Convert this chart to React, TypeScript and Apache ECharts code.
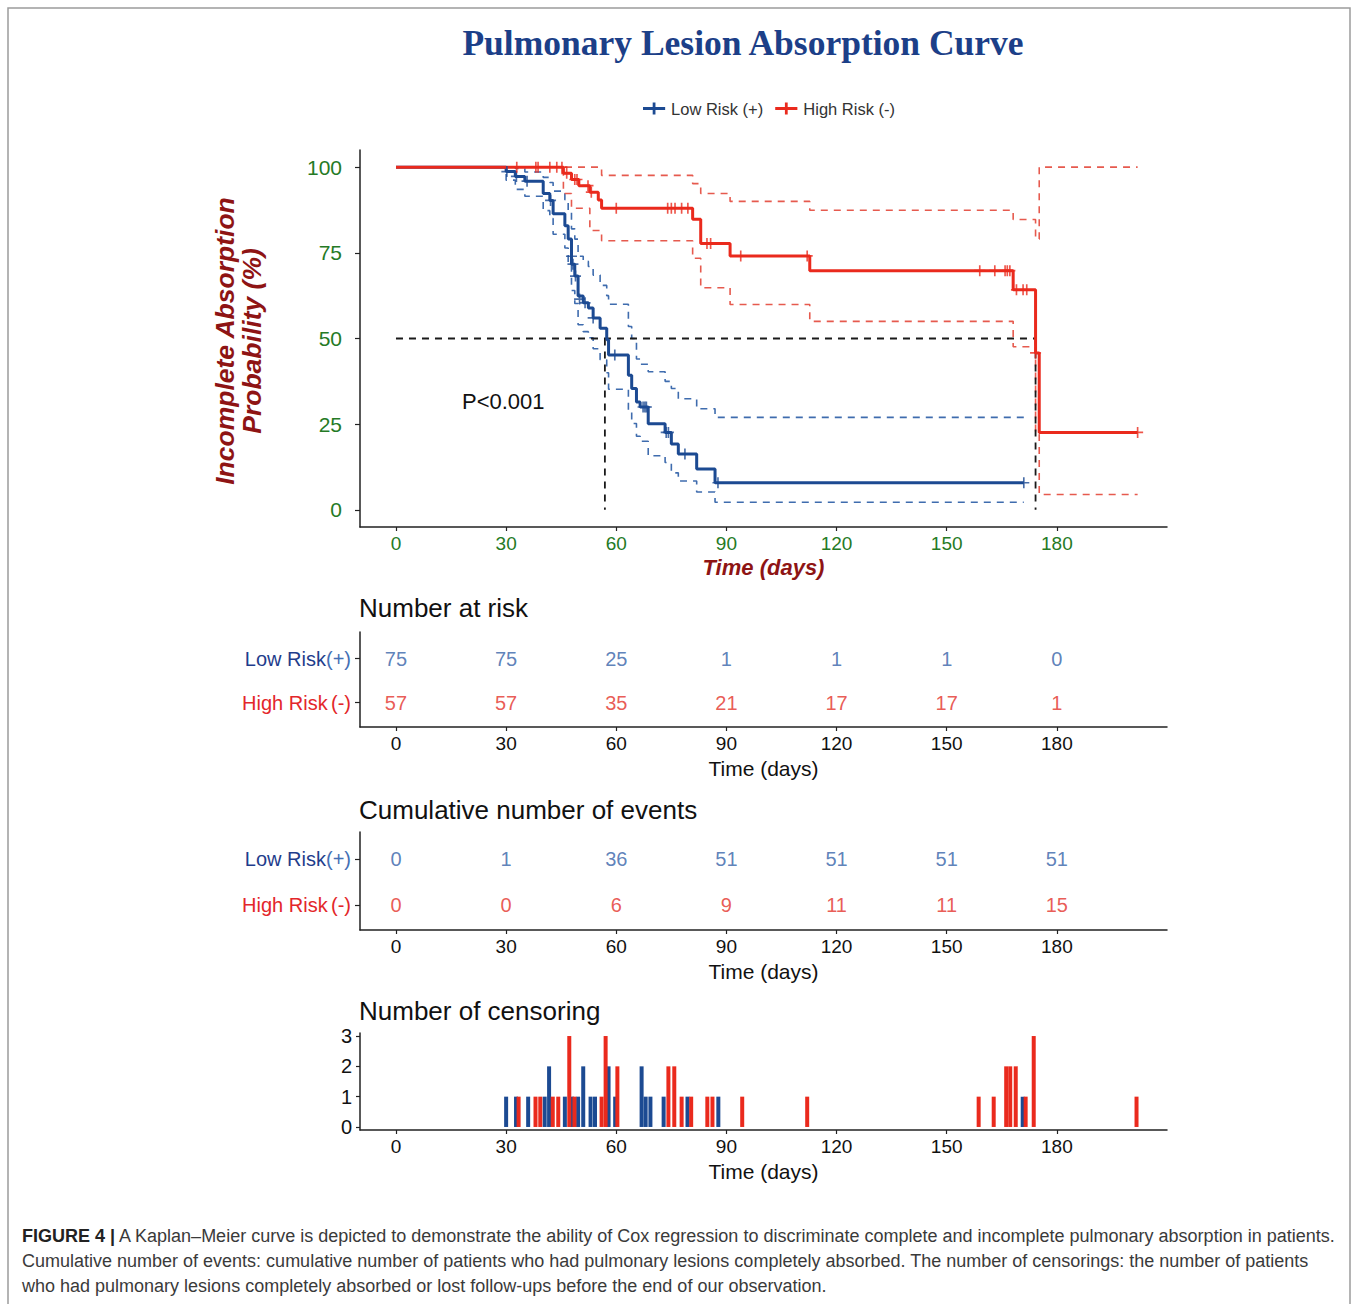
import React, { useEffect, useRef } from "react";
import * as echarts from "echarts";

const FONT = "'Liberation Sans', Arial, sans-serif";
const BLUE = "#1c4a92";
const RED = "#ea2a1d";
const BLUE_CI = "#3f6cae";
const RED_CI = "#e65a4e";
const GREEN = "#257a25";
const DARKRED = "#8e1414";

const timeTicks = [0, 30, 60, 90, 120, 150, 180];
const yTicks = [0, 25, 50, 75, 100];
const censorTicks = [0, 1, 2, 3];

const lowRiskKM = [
  [0, 100], [30, 98.7], [32.5, 97.3], [35.1, 95.9], [40.1, 92.3], [41.9, 90.3], [42.8, 86.4],
  [46, 82.9], [46.9, 79], [47.8, 71.7], [48.7, 68.2], [49.6, 62.4], [51, 60.4], [52.4, 58.9],
  [53.7, 56], [55.6, 53], [57.4, 49.6], [57.9, 45.2], [63.3, 39.3], [64.2, 35.4], [65.5, 31.5],
  [66.5, 30], [68.7, 25.1], [73.3, 22.6], [75, 19.2], [76.9, 16.3], [81.9, 11.9], [86.9, 7.9],
  [171, 7.9],
];
const lowRiskUpper = [
  [0, 100], [32.5, 99.6], [35.1, 98.6], [40.1, 97], [41.9, 95.5], [42.8, 93], [46, 90.5],
  [46.9, 87.5], [47.8, 82], [48.7, 79], [49.6, 74], [51, 72.5], [52.4, 71], [53.7, 68.5],
  [55.6, 65.5], [57.4, 62.5], [57.9, 60], [63.3, 53.5], [64.2, 50], [65.5, 44], [66.5, 42.5],
  [68.7, 40.3], [73.3, 37.5], [75, 35.4], [76.9, 32.4], [81.9, 29.5], [86.9, 27], [171, 27],
];
const lowRiskLower = [
  [0, 100], [30, 96.2], [32.5, 93.5], [35.1, 91.5], [40.1, 87.3], [41.9, 85], [42.8, 80.4],
  [46, 76.4], [46.9, 72], [47.8, 64], [48.7, 60.2], [49.6, 54], [51, 52], [52.4, 50.2],
  [53.7, 47], [55.6, 43.8], [57.4, 40], [57.9, 35.2], [63.3, 29], [64.2, 25.2], [65.5, 21.5],
  [66.5, 20], [68.7, 15.8], [73.3, 13.8], [75, 10.8], [76.9, 8.4], [81.9, 5.2], [86.9, 2.2],
  [171, 2.2],
];
const lowRiskCensor = [
  [30.2, 98.7], [32.8, 97.3], [35.7, 95.9], [42.1, 90.3], [47.8, 74], [48.2, 71.7], [48.9, 68.2],
  [50, 61.5], [51.5, 60.4], [53.7, 56], [59.6, 45.2], [67.3, 30], [67.8, 30], [68.2, 30],
  [73.6, 22.6], [74.2, 22.6], [78.7, 16.3], [87.7, 7.9], [171, 7.9],
];

const highRiskKM = [
  [0, 100], [45.6, 98.2], [47.8, 96.4], [49.8, 94.6], [52.8, 92.7], [55.1, 90.4], [56, 88],
  [80.8, 84.8], [83, 77.7], [91, 74.1], [112.7, 69.8], [168.1, 64.2], [174.2, 45.8],
  [175.2, 22.6], [202, 22.6],
];
const highRiskUpper = [
  [0, 100], [56, 97.6], [80.8, 95.2], [83, 92.3], [91, 90], [112.7, 87.4], [168.1, 84.7],
  [174.2, 79], [175.2, 100], [202, 100],
];
const highRiskLower = [
  [0, 100], [45.6, 92.3], [47.8, 88], [52.8, 81.5], [56, 78.5], [80.8, 73.4], [83, 64.8],
  [91, 59.9], [112.7, 55], [168.1, 47.6], [174.2, 22], [175.2, 4.5], [202, 4.5],
];
const highRiskCensor = [
  [32.9, 100], [38.1, 100], [38.7, 100], [41.9, 100], [43.8, 100], [45.2, 100], [46.5, 98.2],
  [48.7, 96.4], [49.3, 96.4], [52.3, 94.6], [53.2, 92.7], [60, 88], [74, 88], [75, 88], [76, 88],
  [77.8, 88], [79.5, 88], [84.7, 77.7], [85.7, 77.7], [93.9, 74.1], [112, 74.1], [159, 69.8],
  [163.1, 69.8], [165.9, 69.8], [166.5, 69.8], [167.2, 69.8], [169, 64.2], [170.8, 64.2],
  [171.8, 64.2], [174.2, 45.8], [202, 22.6],
];

const medianLow = 56.9;
const medianHigh = 174.2;

const lowAtRisk = [75, 75, 25, 1, 1, 1, 0];
const highAtRisk = [57, 57, 35, 21, 17, 17, 1];
const lowEvents = [0, 1, 36, 51, 51, 51, 51];
const highEvents = [0, 0, 6, 9, 11, 11, 15];

const lowCensorCounts = [
  [30, 1], [32.7, 1], [36, 1], [40.5, 1], [41.7, 2], [46, 1], [47.9, 1], [49.6, 1], [51, 2],
  [53, 1], [54.2, 1], [57.9, 2], [59.7, 1], [66.9, 2], [68, 1], [69.3, 1], [72.9, 1], [79.4, 1],
  [87.8, 1], [170.7, 1],
];
const highCensorCounts = [
  [33.4, 1], [38, 1], [39.3, 1], [42.7, 1], [44.2, 1], [47.2, 3], [48.6, 1], [56, 1], [57.1, 3],
  [60.3, 2], [74.2, 2], [75.8, 2], [77.8, 1], [80.4, 1], [84.8, 1], [86.2, 1], [94.3, 1],
  [112, 1], [158.7, 1], [162.8, 1], [166.2, 2], [167.3, 2], [168.8, 2], [171.5, 1], [173.7, 3],
  [201.7, 1],
];

const LEGEND_ICON = "path://M0,5H24V8H0Z M10.5,0H13.5V13H10.5Z";
const CENSOR_MARK = "path://M0,4.25H10V5.75H0Z M4.25,0H5.75V10H4.25Z";

const X_MIN = -9.8;
const X_MAX = 210;

const AXIS_LINE = { show: true, onZero: false, lineStyle: { color: "#222", width: 1.5 } };

function xAxis(gridIndex: number, main: boolean, nameGap: number) {
  return {
    type: "value",
    gridIndex,
    min: X_MIN,
    max: X_MAX,
    axisLine: AXIS_LINE,
    axisTick: { show: true, length: 4, customValues: timeTicks, lineStyle: { color: "#222", width: 1.2 } },
    axisLabel: {
      customValues: timeTicks,
      color: main ? GREEN : "#111",
      fontSize: 19,
      fontFamily: FONT,
      margin: 7,
    },
    splitLine: { show: false },
    name: "Time (days)",
    nameLocation: "middle",
    nameGap,
    nameTextStyle: main
      ? { color: DARKRED, fontSize: 22, fontWeight: "bold", fontStyle: "italic", fontFamily: FONT }
      : { color: "#111", fontSize: 21, fontFamily: FONT },
  };
}

function tableYAxis(gridIndex: number) {
  return {
    type: "value",
    gridIndex,
    min: 0.45,
    max: 2.6,
    axisLine: AXIS_LINE,
    axisTick: { show: true, length: 5, customValues: [1, 2], lineStyle: { color: "#222", width: 1.2 } },
    axisLabel: {
      customValues: [1, 2],
      margin: 9,
      formatter: (v: number) => (v === 2 ? "{a|Low Risk}{b|(+)}" : "{c|High Risk} {d|(-)}"),
      rich: {
        a: { color: "#1f3d8c", fontSize: 20, fontFamily: FONT },
        b: { color: "#4470b5", fontSize: 20, fontFamily: FONT },
        c: { color: "#e3262a", fontSize: 20, fontFamily: FONT },
        d: { color: "#e3262a", fontSize: 20, fontFamily: FONT },
      },
    },
    splitLine: { show: false },
  };
}

function stepLine(name: string, data: number[][], color: string, width: number, dashed: boolean) {
  return {
    type: "line",
    name,
    xAxisIndex: 0,
    yAxisIndex: 0,
    data,
    step: "end",
    symbol: "none",
    color,
    lineStyle: { color, width, type: dashed ? [7, 6] : "solid" },
    silent: true,
    z: dashed ? 2 : 4,
  };
}

function medianSeg(name: string, data: number[][]) {
  return {
    type: "line",
    name,
    xAxisIndex: 0,
    yAxisIndex: 0,
    data,
    symbol: "none",
    color: "#1a1a1a",
    lineStyle: { color: "#1a1a1a", width: 1.8, type: [7, 6] },
    silent: true,
    z: 3,
  };
}

function censorMarks(name: string, data: number[][], color: string) {
  return {
    type: "scatter",
    name,
    xAxisIndex: 0,
    yAxisIndex: 0,
    data,
    symbol: CENSOR_MARK,
    symbolSize: 11,
    itemStyle: { color },
    silent: true,
    z: 5,
  };
}

function tableRow(name: string, gridIndex: number, row: number, values: number[], color: string) {
  return {
    type: "scatter",
    name,
    xAxisIndex: gridIndex,
    yAxisIndex: gridIndex,
    data: timeTicks.map((t, i) => [t, row, values[i]]),
    symbolSize: 1,
    itemStyle: { color: "rgba(0,0,0,0)" },
    label: {
      show: true,
      position: "inside",
      formatter: (p: any) => String(p.value[2]),
      color,
      fontSize: 20,
      fontFamily: FONT,
    },
    silent: true,
  };
}

const caption1 =
  "{b|FIGURE 4 |} A Kaplan–Meier curve is depicted to demonstrate the ability of Cox regression to discriminate complete and incomplete pulmonary absorption in patients.";
const caption2 =
  "Cumulative number of events: cumulative number of patients who had pulmonary lesions completely absorbed. The number of censorings: the number of patients";
const caption3 =
  "who had pulmonary lesions completely absorbed or lost follow-ups before the end of our observation.";

function sectionTitle(text: string, y: number) {
  return {
    type: "text",
    x: 359,
    y,
    silent: true,
    style: { text, fontFamily: FONT, fontSize: 26, fill: "#111", align: "left", verticalAlign: "middle" },
  };
}

function captionLine(text: string, y: number) {
  return {
    type: "text",
    x: 22,
    y,
    silent: true,
    style: {
      text,
      fontFamily: FONT,
      fontSize: 18,
      fill: "#3a3a3a",
      align: "left",
      verticalAlign: "middle",
      rich: { b: { fontFamily: FONT, fontSize: 18, fontWeight: "bold", fill: "#222" } },
    },
  };
}

function buildOption() {
  return {
    animation: false,
    backgroundColor: "#ffffff",
    textStyle: { fontFamily: FONT },
    grid: [
      { left: 360, top: 150, width: 807, height: 377 },
      { left: 360, top: 632, width: 807, height: 95 },
      { left: 360, top: 832, width: 807, height: 98 },
      { left: 360, top: 1033, width: 807, height: 97 },
    ],
    legend: {
      data: [
        { name: "Low Risk (+)", icon: LEGEND_ICON },
        { name: "High Risk (-)", icon: LEGEND_ICON },
      ],
      left: 638,
      top: 95,
      itemWidth: 24,
      itemHeight: 12,
      itemGap: 12,
      selectedMode: false,
      textStyle: { fontSize: 16.5, color: "#333", fontFamily: FONT },
    },
    xAxis: [xAxis(0, true, 29), xAxis(1, false, 31), xAxis(2, false, 31), xAxis(3, false, 31)],
    yAxis: [
      {
        type: "value",
        gridIndex: 0,
        min: -5,
        max: 105,
        axisLine: AXIS_LINE,
        axisTick: { show: true, length: 5, customValues: yTicks, lineStyle: { color: "#222", width: 1.2 } },
        axisLabel: { customValues: yTicks, color: GREEN, fontSize: 21, fontFamily: FONT, margin: 18 },
        splitLine: { show: false },
      },
      tableYAxis(1),
      tableYAxis(2),
      {
        type: "value",
        gridIndex: 3,
        min: -0.1,
        max: 3.1,
        axisLine: AXIS_LINE,
        axisTick: { show: true, length: 4, customValues: censorTicks, lineStyle: { color: "#222", width: 1.2 } },
        axisLabel: { customValues: censorTicks, color: "#111", fontSize: 20, fontFamily: FONT, margin: 8 },
        splitLine: { show: false },
      },
    ],
    series: [
      stepLine("Low upper", lowRiskUpper, BLUE_CI, 1.6, true),
      stepLine("Low lower", lowRiskLower, BLUE_CI, 1.6, true),
      stepLine("High upper", highRiskUpper, RED_CI, 1.6, true),
      stepLine("High lower", highRiskLower, RED_CI, 1.6, true),
      medianSeg("Median h", [[0, 50], [medianHigh, 50]]),
      medianSeg("Median low v", [[medianLow, 50], [medianLow, 0]]),
      medianSeg("Median high v", [[medianHigh, 50], [medianHigh, 0]]),
      stepLine("Low Risk (+)", lowRiskKM, BLUE, 3, false),
      stepLine("High Risk (-)", highRiskKM, RED, 3, false),
      censorMarks("Low censor", lowRiskCensor, BLUE),
      censorMarks("High censor", highRiskCensor, RED),
      tableRow("Low at risk", 1, 2, lowAtRisk, "#3562a8"),
      tableRow("High at risk", 1, 1, highAtRisk, "#e3322a"),
      tableRow("Low events", 2, 2, lowEvents, "#3562a8"),
      tableRow("High events", 2, 1, highEvents, "#e3322a"),
      {
        type: "bar",
        name: "Low censoring",
        xAxisIndex: 3,
        yAxisIndex: 3,
        data: lowCensorCounts,
        barWidth: 4,
        barGap: "-100%",
        itemStyle: { color: BLUE },
        silent: true,
      },
      {
        type: "bar",
        name: "High censoring",
        xAxisIndex: 3,
        yAxisIndex: 3,
        data: highCensorCounts,
        barWidth: 4,
        barGap: "-100%",
        itemStyle: { color: RED },
        silent: true,
      },
    ],
    graphic: [
      {
        type: "rect",
        z: -10,
        silent: true,
        shape: { x: 8, y: 8, width: 1342, height: 1310 },
        style: { fill: "none", stroke: "#9c9c9c", lineWidth: 1.5 },
      },
      {
        type: "text",
        x: 743,
        y: 43,
        silent: true,
        style: {
          text: "Pulmonary Lesion Absorption Curve",
          fontFamily: "'Liberation Serif', 'Times New Roman', serif",
          fontWeight: "bold",
          fontSize: 35.5,
          fill: "#1c3f88",
          align: "center",
          verticalAlign: "middle",
        },
      },
      {
        type: "text",
        x: 238,
        y: 341,
        rotation: Math.PI / 2,
        silent: true,
        style: {
          text: "Incomplete Absorption\nProbability (%)",
          fontFamily: FONT,
          fontWeight: "bold",
          fontStyle: "italic",
          fontSize: 26.5,
          lineHeight: 27,
          fill: DARKRED,
          align: "center",
          verticalAlign: "middle",
        },
      },
      {
        type: "text",
        x: 462,
        y: 401,
        silent: true,
        style: { text: "P<0.001", fontFamily: FONT, fontSize: 22, fill: "#111", align: "left", verticalAlign: "middle" },
      },
      sectionTitle("Number at risk", 608),
      sectionTitle("Cumulative number of events", 810),
      sectionTitle("Number of censoring", 1011),
      captionLine(caption1, 1236),
      captionLine(caption2, 1261),
      captionLine(caption3, 1286),
    ],
  };
}

export default function App() {
  const ref = useRef<HTMLDivElement>(null);
  useEffect(() => {
    document.body.style.margin = "0";
    const chart = echarts.init(ref.current as HTMLDivElement, null, { renderer: "svg" });
    chart.setOption(buildOption() as any);
    return () => {
      chart.dispose();
    };
  }, []);
  return <div ref={ref} style={{ width: 1357, height: 1304 }} />;
}
